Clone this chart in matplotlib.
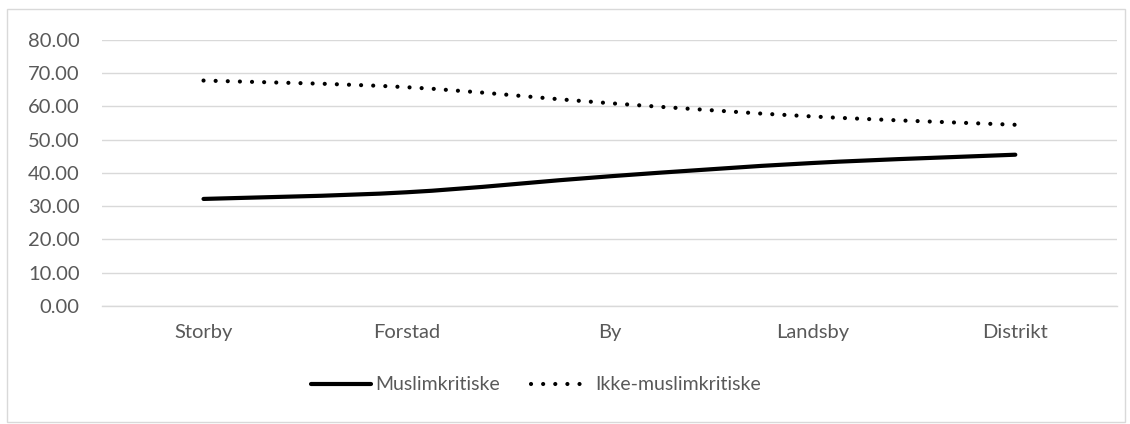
import numpy as np
import matplotlib
matplotlib.use("Agg")
import matplotlib.pyplot as plt
from matplotlib.path import Path
from matplotlib.patches import PathPatch, Rectangle
from matplotlib.lines import Line2D

categories = ["Storby", "Forstad", "By", "Landsby", "Distrikt"]
muslimkritiske = [32.2, 34.2, 39.0, 43.0, 45.5]
ikke_muslimkritiske = [67.8, 65.8, 61.0, 57.0, 54.5]
yticks = [0, 10, 20, 30, 40, 50, 60, 70, 80]

plt.rcParams['font.family'] = ['Lato', 'DejaVu Sans']
text_col = "#595959"
grid_col = "#d9d9d9"


def smooth_path(xs, ys):
    # Excel-style smoothed line: cubic bezier segments (Catmull-Rom, tension 1/6)
    pts = np.column_stack([xs, ys]).astype(float)
    n = len(pts)
    verts = [pts[0]]
    codes = [Path.MOVETO]
    for i in range(n - 1):
        p0 = pts[max(i - 1, 0)]
        p1 = pts[i]
        p2 = pts[i + 1]
        p3 = pts[min(i + 2, n - 1)]
        c1 = p1 + (p2 - p0) / 6.0
        c2 = p2 - (p3 - p1) / 6.0
        verts += [c1, c2, p2]
        codes += [Path.CURVE4] * 3
    return Path(verts, codes)


fig = plt.figure(figsize=(11.3, 4.24), dpi=100)
ax = fig.add_axes([0.0903, 0.2783, 0.898, 0.6274])

x = np.arange(len(categories))
dotted = (0, (0.01, 2.9))

ax.add_patch(PathPatch(smooth_path(x, muslimkritiske), fill=False, edgecolor="black",
                       lw=3.0, capstyle="round", joinstyle="round"))
ax.add_patch(PathPatch(smooth_path(x, ikke_muslimkritiske), fill=False, edgecolor="black",
                       lw=3.0, linestyle=dotted, capstyle="round"))

ax.set_xlim(-0.5, len(categories) - 0.5)
ax.set_ylim(0, 80)
ax.set_yticks(yticks)
ax.set_yticklabels([f"{v:.2f}" for v in yticks])
ax.set_xticks(x)
ax.set_xticklabels(categories)
ax.yaxis.grid(True, color=grid_col, lw=1.0)
ax.set_axisbelow(True)
for s in ax.spines.values():
    s.set_visible(False)
ax.spines["bottom"].set_visible(True)
ax.spines["bottom"].set_color(grid_col)
ax.spines["bottom"].set_linewidth(1.0)
ax.tick_params(axis="both", length=0, labelsize=14.5, colors=text_col)
ax.tick_params(axis="x", pad=13)
ax.tick_params(axis="y", pad=16)

handles = [
    Line2D([], [], color="black", lw=3.0, solid_capstyle="round"),
    Line2D([], [], color="black", lw=3.0, linestyle=dotted, dash_capstyle="round"),
]
leg = fig.legend(handles, ["Muslimkritiske", "Ikke-muslimkritiske"], loc="center",
                 bbox_to_anchor=(0.474, 0.092), ncol=2, frameon=False, fontsize=14,
                 handlelength=3.1, handletextpad=0.2, columnspacing=1.6)
for t in leg.get_texts():
    t.set_color(text_col)

fig.patches.append(Rectangle((0.006, 0.004), 0.99, 0.975, transform=fig.transFigure,
                             fill=False, edgecolor=grid_col, lw=1.0))

fig.savefig("out.png", dpi=100)
